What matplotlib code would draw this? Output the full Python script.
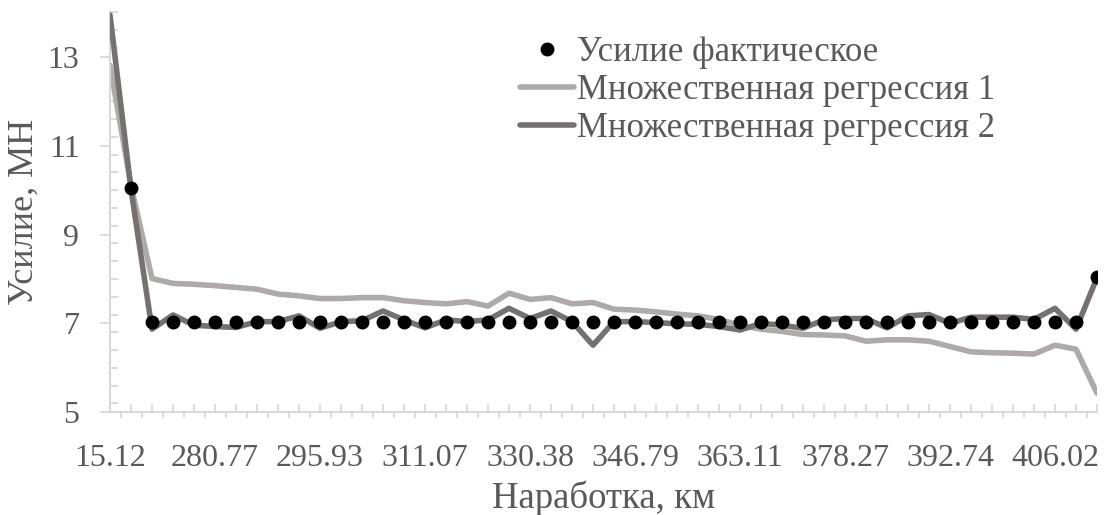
import numpy as np
import matplotlib
matplotlib.use("Agg")
import matplotlib.pyplot as plt
from matplotlib.ticker import FixedLocator, MultipleLocator

# Labels shown on the category axis (every fifth run-time category)
run_labels = ["15.12", "280.77", "295.93", "311.07", "330.38",
              "346.79", "363.11", "378.27", "392.74", "406.02"]
label_step = 5

# Measured force, MN (no measurement at the first category)
force_actual = [np.nan, 10.05, 7.04, 7.04, 7.04, 7.04, 7.04, 7.04, 7.04, 7.04,
                7.04, 7.04, 7.04, 7.04, 7.04, 7.04, 7.04, 7.04, 7.04, 7.04,
                7.04, 7.04, 7.04, 7.04, 7.04, 7.04, 7.04, 7.04, 7.04, 7.04,
                7.04, 7.04, 7.04, 7.04, 7.04, 7.04, 7.04, 7.04, 7.04, 7.04,
                7.04, 7.04, 7.04, 7.04, 7.04, 7.04, 7.04, 8.04]

# Multiple regression, model 1
regression_1 = [12.81, 10.10, 8.01, 7.90, 7.88, 7.85, 7.81, 7.77, 7.66, 7.62,
                7.56, 7.56, 7.58, 7.58, 7.51, 7.47, 7.44, 7.49, 7.39, 7.68,
                7.54, 7.58, 7.44, 7.47, 7.32, 7.30, 7.26, 7.21, 7.17, 7.09,
                6.96, 6.87, 6.82, 6.75, 6.74, 6.72, 6.60, 6.63, 6.63, 6.60,
                6.48, 6.36, 6.34, 6.33, 6.31, 6.51, 6.42, 5.43]

# Multiple regression, model 2
regression_2 = [13.94, 10.02, 6.87, 7.19, 6.96, 6.93, 6.91, 7.04, 7.04, 7.17,
                6.89, 7.04, 7.06, 7.28, 7.08, 6.90, 7.08, 7.04, 7.08, 7.34,
                7.11, 7.28, 7.04, 6.51, 7.04, 7.04, 7.02, 6.99, 6.98, 6.93,
                6.85, 7.00, 6.96, 6.89, 7.08, 7.11, 7.11, 6.90, 7.17, 7.20,
                7.00, 7.14, 7.14, 7.14, 7.09, 7.34, 6.87, 8.03]

TEXT = "#595959"
AXIS = "#D9D9D9"
plt.rcParams["font.family"] = ["Liberation Serif", "DejaVu Serif"]

fig = plt.figure(figsize=(11.04, 5.15), dpi=100)
ax = fig.add_axes([110 / 1104, 1 - 412.3 / 515, 987 / 1104, 400 / 515])

x = np.arange(len(regression_1))
ax.plot(x, regression_1, color="#AEAAAA", lw=4.0, solid_joinstyle="round",
        solid_capstyle="round", zorder=2, label="Множественная регрессия 1")
ax.plot(x, regression_2, color="#767171", lw=4.0, solid_joinstyle="round",
        solid_capstyle="round", zorder=3, label="Множественная регрессия 2")
ax.plot(x, force_actual, ls="none", marker="o", ms=9, color="black",
        zorder=4, label="Усилие фактическое")

ax.set_xlim(0, len(x) - 1)
ax.set_ylim(5, 14)

# Category axis: a tick at every category, labels on every fifth one
full_labels = [""] * len(x)
for k, lab in enumerate(run_labels):
    full_labels[k * label_step] = lab
ax.set_xticks(x)
ax.set_xticklabels(full_labels)
ax.xaxis.set_minor_locator(FixedLocator(x[:-1] + 0.5))
ax.tick_params(axis="x", which="major", direction="in", length=6, width=1.3,
               color=AXIS, labelsize=23, labelcolor=TEXT, pad=23)
ax.tick_params(axis="x", which="minor", direction="out", length=4.5, width=1.3,
               color=AXIS)

ax.set_yticks([5, 7, 9, 11, 13])
ax.yaxis.set_minor_locator(MultipleLocator(0.4))
ax.tick_params(axis="y", which="major", direction="out", length=7, width=1.3,
               color=AXIS, labelsize=23, labelcolor=TEXT, pad=15)
ax.tick_params(axis="y", which="minor", direction="in", length=6, width=1.3,
               color=AXIS)

for side in ("top", "right"):
    ax.spines[side].set_visible(False)
for side in ("left", "bottom"):
    ax.spines[side].set_color(AXIS)
    ax.spines[side].set_linewidth(1.5)

ax.set_xlabel("Наработка, км", fontsize=26.5, color=TEXT, labelpad=5)
ax.set_ylabel("Усилие, МН", fontsize=26, color=TEXT, labelpad=5)

handles, labels = ax.get_legend_handles_labels()
order = [2, 0, 1]
leg = ax.legend([handles[i] for i in order], [labels[i] for i in order],
                loc="upper left", bbox_to_anchor=(520 / 1104, 1 - 36 / 515),
                bbox_transform=fig.transFigure, frameon=False, fontsize=25,
                handlelength=1.55, handletextpad=0.1, labelspacing=0.15,
                borderaxespad=0, borderpad=0)
for t in leg.get_texts():
    t.set_color(TEXT)

fig.savefig("out.png", dpi=100)
